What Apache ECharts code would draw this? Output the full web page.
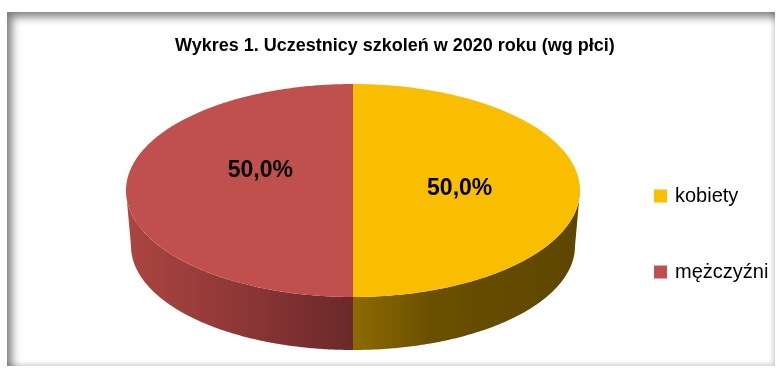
<!DOCTYPE html>
<html>
<head>
<meta charset="utf-8">
<script src="https://cdn.jsdelivr.net/npm/echarts@6/dist/echarts.min.js"></script>
<style>
  html, body { margin: 0; padding: 0; background: #fff; }
  #wrap { position: relative; width: 778px; height: 369px; overflow: hidden; }
  #frame {
    position: absolute; left: 7px; top: 12px; width: 768px; height: 354px;
    box-shadow: inset 7px 7px 9px -2px rgba(0,0,0,0.5), inset -3px -3px 5px -1px rgba(0,0,0,0.18);
  }
  #chart { position: absolute; left: 0; top: 0; width: 778px; height: 369px; }
</style>
</head>
<body>
<div id="wrap"><div id="frame"></div><div id="chart"></div></div>
<script>
// Participants by sex (percent)
const categories = ['kobiety', 'mężczyźni'];
const shares = [50.0, 50.0];
const chartTitle = 'Wykres 1. Uczestnicy szkoleń w 2020 roku (wg płci)';

// Look of the tilted pie
const topColors = ['#F9BE00', '#C0504D'];
const sideColors = [
  [['#8D6B00', 0], ['#6A4F00', 0.35], ['#5E4600', 1]],
  [['#AB4540', 0], ['#8E3737', 0.5], ['#6B2829', 1]]
];
const PIE = { cx: 353, cy: 190.5, rx: 227, ry: 106.5, depth: 53, bottomRx: 222, bottomRy: 104 };
const LABEL_RADIUS = 0.47;
const labelShift = [[0, -2], [14, -20]];

const total = shares.reduce((a, b) => a + b, 0);
const bottomCy = PIE.cy + PIE.ry + PIE.depth - PIE.bottomRy;

function topPt(t) { return [PIE.cx + PIE.rx * Math.sin(t), PIE.cy - PIE.ry * Math.cos(t)]; }
function botPt(t) { return [PIE.cx + PIE.bottomRx * Math.sin(t), bottomCy - PIE.bottomRy * Math.cos(t)]; }
function arc(fn, a, b) {
  const n = Math.max(2, Math.ceil(Math.abs(b - a) / 0.01));
  const pts = [];
  for (let k = 0; k <= n; k++) pts.push(fn(a + (b - a) * k / n));
  return pts;
}
function fmt(v) { return v.toFixed(1).replace('.', ',') + '%'; }

function sliceRenderer(i) {
  return function (params, api) {
    const v = api.value(0);
    let before = 0;
    for (let k = 0; k < i; k++) before += shares[k];
    const a0 = before / total * Math.PI * 2;
    const a1 = (before + v) / total * Math.PI * 2;
    const children = [];

    // front wall: the part of the rim facing the viewer
    const s0 = Math.max(a0, Math.PI / 2), s1 = Math.min(a1, Math.PI * 1.5);
    if (s1 > s0) {
      const pts = arc(topPt, s0, s1).concat(arc(botPt, s1, s0));
      children.push({
        type: 'polygon',
        shape: { points: pts },
        style: {
          fill: {
            type: 'linear', x: 0, y: 0, x2: 1, y2: 0,
            colorStops: sideColors[i].map(([c, o]) => ({ offset: o, color: c }))
          }
        }
      });
    }

    // top face
    children.push({
      type: 'polygon',
      shape: { points: [[PIE.cx, PIE.cy]].concat(arc(topPt, a0, a1)) },
      style: { fill: topColors[i] }
    });

    // value label
    const mid = (a0 + a1) / 2;
    children.push({
      type: 'text',
      z2: 10,
      x: PIE.cx + PIE.rx * LABEL_RADIUS * Math.sin(mid) + labelShift[i][0],
      y: PIE.cy - PIE.ry * LABEL_RADIUS * Math.cos(mid) + labelShift[i][1],
      style: {
        text: fmt(v),
        fill: '#000',
        font: 'bold 23px "Liberation Sans", Arial, sans-serif',
        align: 'center',
        verticalAlign: 'middle'
      }
    });
    return { type: 'group', children: children };
  };
}

const chart = echarts.init(document.getElementById('chart'), null, { renderer: 'canvas' });
chart.setOption({
  backgroundColor: 'transparent',
  animation: false,
  title: {
    text: chartTitle,
    left: 175,
    top: 37,
    padding: 0,
    textStyle: { fontFamily: '"Liberation Sans", Arial, sans-serif', fontWeight: 'bold', fontSize: 18, color: '#000' }
  },
  legend: {
    orient: 'vertical',
    left: 654,
    top: 186,
    padding: 0,
    itemWidth: 13,
    itemHeight: 13,
    itemGap: 56,
    icon: 'rect',
    data: categories,
    textStyle: { fontFamily: '"Liberation Sans", Arial, sans-serif', fontSize: 20, color: '#000', padding: [0, 0, 0, 3] }
  },
  series: categories.map((name, i) => ({
    type: 'custom',
    name: name,
    coordinateSystem: 'none',
    color: topColors[i],
    renderItem: sliceRenderer(i),
    data: [[shares[i]]]
  }))
});
</script>
</body>
</html>
